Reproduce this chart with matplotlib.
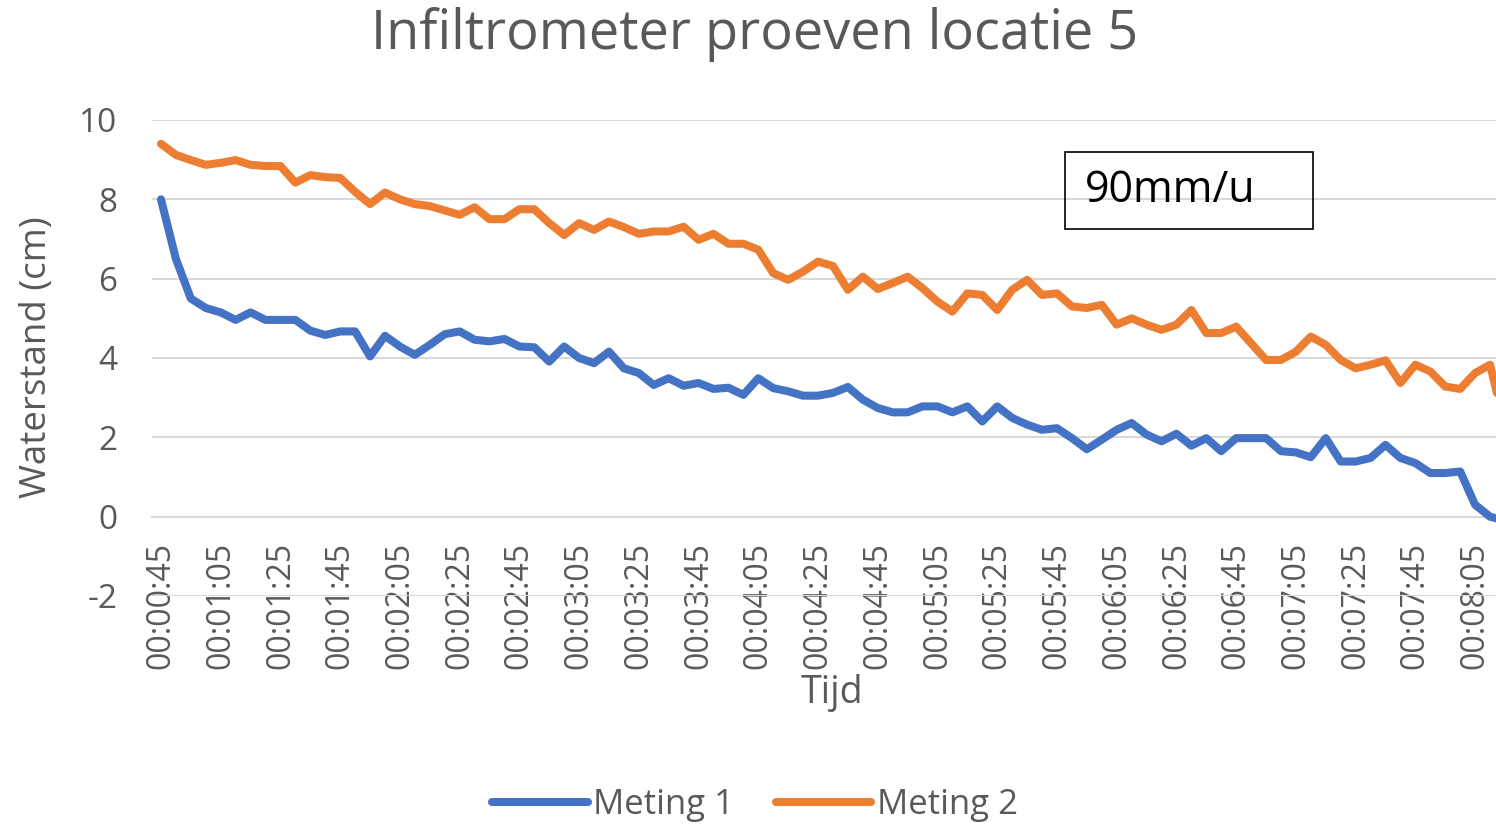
import matplotlib
matplotlib.use("Agg")
import matplotlib.pyplot as plt
from matplotlib.patches import Rectangle

plt.rcParams['font.family'] = ['Open Sans', 'DejaVu Sans']
plt.rcParams['axes.unicode_minus'] = False

# tijdstippen (categorieen), elke 5 seconden vanaf 00:00:45
tijden = [f"00:{s // 60:02d}:{s % 60:02d}" for s in range(45, 500, 5)]

meting_1 = [8.0, 6.5, 5.5, 5.26, 5.15, 4.96, 5.15, 4.96, 4.96, 4.96,
            4.69, 4.58, 4.67, 4.67, 4.04, 4.56, 4.29, 4.08, 4.33, 4.6,
            4.67, 4.46, 4.42, 4.48, 4.29, 4.27, 3.91, 4.29, 4.0, 3.87,
            4.16, 3.74, 3.62, 3.32, 3.49, 3.3, 3.37, 3.22, 3.25, 3.07,
            3.49, 3.24, 3.16, 3.05, 3.05, 3.12, 3.27, 2.95, 2.74, 2.63,
            2.63, 2.78, 2.78, 2.63, 2.78, 2.4, 2.78, 2.49, 2.32, 2.19,
            2.23, 1.98, 1.7, 1.94, 2.19, 2.36, 2.07, 1.9, 2.09, 1.79,
            1.98, 1.65, 1.98, 1.98, 1.98, 1.65, 1.62, 1.5, 1.98, 1.39,
            1.39, 1.48, 1.81, 1.48, 1.35, 1.1, 1.1, 1.14, 0.3, 0.0, -0.1]

meting_2 = [9.4, 9.12, 8.99, 8.87, 8.92, 8.99, 8.87, 8.84, 8.84, 8.42,
            8.61, 8.56, 8.54, 8.19, 7.88, 8.17, 8.0, 7.88, 7.83, 7.72,
            7.61, 7.8, 7.5, 7.5, 7.75, 7.75, 7.4, 7.1, 7.4, 7.23,
            7.44, 7.3, 7.13, 7.19, 7.19, 7.31, 6.98, 7.13, 6.88, 6.88,
            6.73, 6.14, 5.97, 6.18, 6.43, 6.32, 5.72, 6.05, 5.74, 5.89,
            6.05, 5.76, 5.42, 5.17, 5.63, 5.59, 5.21, 5.72, 5.97, 5.59,
            5.63, 5.3, 5.26, 5.34, 4.84, 5.0, 4.84, 4.71, 4.84, 5.21,
            4.63, 4.63, 4.79, 4.37, 3.95, 3.95, 4.16, 4.54, 4.33, 3.95,
            3.74, 3.83, 3.94, 3.37, 3.83, 3.66, 3.28, 3.22, 3.62, 3.83, 2.3]

grijs = '#595959'
W, H = 1496, 826

fig = plt.figure(figsize=(W / 100, H / 100), dpi=100)
ax = fig.add_axes([152 / W, 1 - 596 / H, 1 - 152 / W, (596 - 120) / H])

x = list(range(len(tijden)))
ax.plot(x, meting_1, color='#4472C4', lw=5.8, label='Meting 1',
        solid_joinstyle='round', solid_capstyle='round', zorder=3)
ax.plot(x, meting_2, color='#ED7D31', lw=5.8, label='Meting 2',
        solid_joinstyle='round', solid_capstyle='round', zorder=3)

ax.set_xlim(-0.6, 89.4)
ax.set_ylim(-2, 10)
ax.set_yticks(range(-2, 11, 2))
ax.grid(axis='y', color='#D9D9D9', lw=1.5, zorder=0)
ax.set_axisbelow(True)

for s in ['top', 'right', 'left']:
    ax.spines[s].set_visible(False)
ax.spines['bottom'].set_position(('data', 0))
ax.spines['bottom'].set_color('#D9D9D9')
ax.spines['bottom'].set_linewidth(1.5)

ax.set_xticks(x[::4])
ax.set_xticklabels(tijden[::4], rotation=90)
ax.tick_params(axis='x', length=0, pad=18, labelsize=23, labelcolor=grijs)
ax.tick_params(axis='y', length=0, pad=25, labelsize=24, labelcolor=grijs)
for lbl in ax.get_xticklabels():
    lbl.set_zorder(5)

fig.text(755 / W, 1 - 35 / H, 'Infiltrometer proeven locatie 5',
         ha='center', va='center', fontsize=39, color=grijs)
fig.text(37 / W, 1 - 357 / H, 'Waterstand (cm)', rotation=90,
         ha='center', va='center', fontsize=26.5, color=grijs)
fig.text(832 / W, 1 - 693 / H, 'Tijd', ha='center', va='center',
         fontsize=27, color=grijs)

# tekstvak
fig.add_artist(Rectangle((1065 / W, 1 - 229 / H), 248 / W, 77 / H,
                         transform=fig.transFigure, fill=False,
                         ec='black', lw=1.2))
fig.text(1085 / W, 1 - 191 / H, '90mm/u', ha='left', va='center',
         fontsize=31, color='black')

fig.legend(loc='center', bbox_to_anchor=(755 / W, 1 - 805 / H), ncol=2,
           frameon=False, fontsize=25, labelcolor=grijs, handlelength=2.75,
           handletextpad=0.15, columnspacing=1.2)

fig.savefig('out.png', dpi=100)
